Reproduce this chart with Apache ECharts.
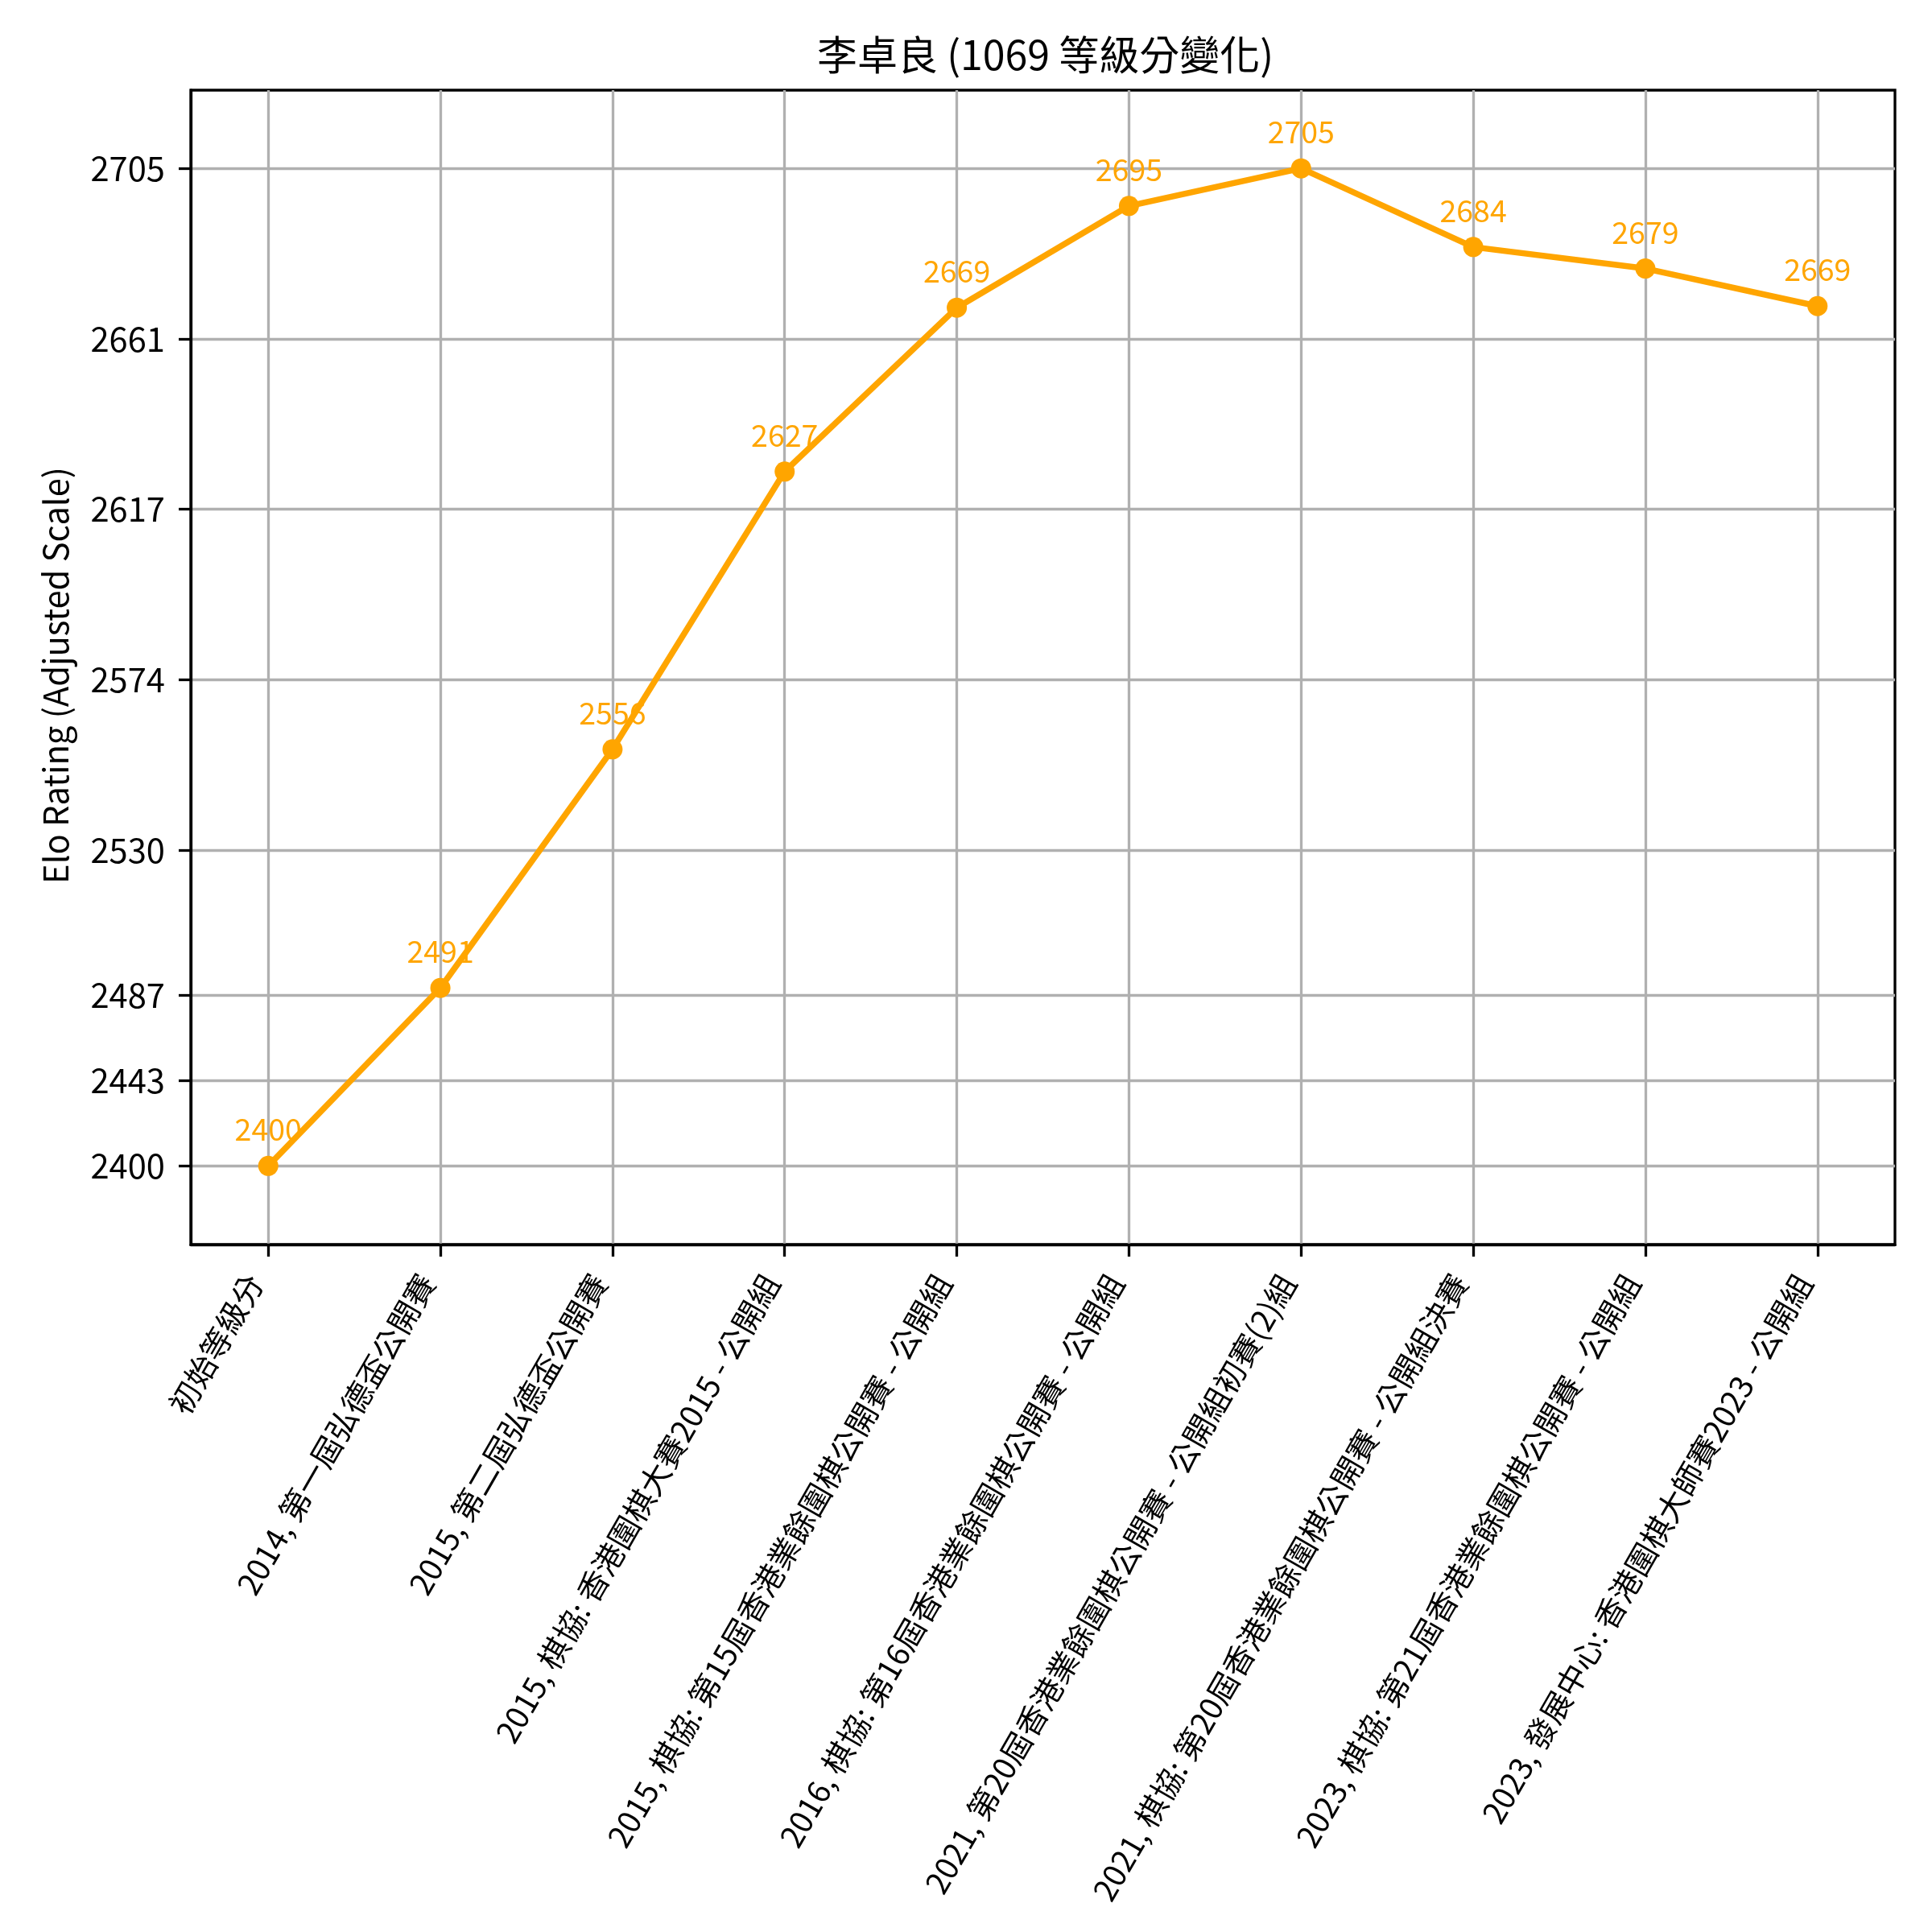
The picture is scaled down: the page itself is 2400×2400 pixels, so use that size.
<!DOCTYPE html>
<html>
<head>
<meta charset="utf-8">
<script src="https://cdn.jsdelivr.net/npm/echarts@6/dist/echarts.min.js"></script>
<style>html,body{margin:0;padding:0;background:#fff}#c{width:2400px;height:2400px}</style>
</head>
<body>
<div id="c"></div>
<script>
// ---- data ----
const categories = [
  '初始等級分',
  '2014, 第一屆弘德盃公開賽',
  '2015, 第二屆弘德盃公開賽',
  '2015, 棋協: 香港圍棋大賽2015 - 公開組',
  '2015, 棋協: 第15屆香港業餘圍棋公開賽 - 公開組',
  '2016, 棋協: 第16屆香港業餘圍棋公開賽 - 公開組',
  '2021, 第20屆香港業餘圍棋公開賽 - 公開組初賽(2)組',
  '2021, 棋協: 第20屆香港業餘圍棋公開賽 - 公開組決賽',
  '2023, 棋協: 第21屆香港業餘圍棋公開賽 - 公開組',
  '2023, 發展中心: 香港圍棋大師賽2023 - 公開組'
];
// ratings as read from the plotted positions (labels show the integer part)
const ratings = [2400, 2491, 2556.5, 2627.5, 2669.4, 2695.4, 2705, 2684.9, 2679.4, 2669.8];
const yTickValues = [2400, 2443.57, 2487.14, 2530.71, 2574.29, 2617.86, 2661.43, 2705];
const xTickValues = [0, 1, 2, 3, 4, 5, 6, 7, 8, 9];
const titleText = '李卓良 (1069 等級分變化)';
const yName = 'Elo Rating (Adjusted Scale)';

// adjusted scale: values below the break are compressed by half
const BREAK = 2500;
function toScale(v) { return v >= BREAK ? v : BREAK - (BREAK - v) / 2; }
function fromScale(s) { return s >= BREAK ? s : BREAK - (BREAK - s) * 2; }

const FONT = '"Noto Sans CJK TC", "Noto Sans", sans-serif';
const chart = echarts.init(document.getElementById('c'), null, {renderer: 'canvas'});
chart.setOption({
  animation: false,
  backgroundColor: '#ffffff',
  textStyle: {fontFamily: FONT},
  title: {
    text: titleText,
    left: 1010,
    top: 38,
    padding: 5,
    textStyle: {fontFamily: FONT, fontSize: 50, fontWeight: 'normal', color: '#000'}
  },
  grid: {
    left: 237, top: 112, right: 46, bottom: 854,
    containLabel: false, outerBoundsMode: 'none',
    show: true, borderColor: '#000', borderWidth: 3.3, backgroundColor: 'transparent'
  },
  xAxis: {
    type: 'value',
    min: -0.45, max: 9.45,
    axisLine: {show: true, onZero: false, lineStyle: {color: '#000', width: 3.3}},
    axisTick: {show: true, customValues: xTickValues, length: 15, lineStyle: {color: '#000', width: 3.3}},
    splitLine: {show: true, lineStyle: {color: '#b0b0b0', width: 3.3}},
    axisLabel: {
      customValues: xTickValues,
      rotate: 60, interval: 0, hideOverlap: false,
      align: 'right', verticalAlign: 'bottom',
      margin: 50,
      fontFamily: FONT, fontSize: 38.5, color: '#000',
      formatter: v => categories[Math.round(v)] || ''
    }
  },
  yAxis: {
    type: 'value',
    min: 2429.9, max: 2725,
    name: yName,
    nameLocation: 'middle',
    nameGap: 147,
    nameTextStyle: {fontFamily: FONT, fontSize: 41.7, color: '#000', padding: [0, 20, 0, 0]},
    axisLine: {show: true, onZero: false, lineStyle: {color: '#000', width: 3.3}},
    axisTick: {show: true, customValues: yTickValues.map(toScale), length: 15, lineStyle: {color: '#000', width: 3.3}},
    splitLine: {show: true, lineStyle: {color: '#b0b0b0', width: 3.3}},
    axisLabel: {
      customValues: yTickValues.map(toScale),
      margin: 32,
      fontFamily: FONT, fontSize: 41.7, color: '#000',
      formatter: v => String(Math.floor(fromScale(v) + 1e-6))
    }
  },
  series: [{
    type: 'line',
    data: ratings.map((v, i) => [i, toScale(v)]),
    color: '#FFA500',
    lineStyle: {color: '#FFA500', width: 7.5},
    symbol: 'circle',
    symbolSize: 25,
    itemStyle: {color: '#FFA500'},
    label: {
      show: true,
      position: 'top',
      distance: 14,
      color: '#FFA500',
      fontFamily: FONT,
      fontSize: 37.5,
      formatter: p => String(Math.floor(ratings[p.dataIndex]))
    },
    z: 3
  }]
});
</script>
</body>
</html>
